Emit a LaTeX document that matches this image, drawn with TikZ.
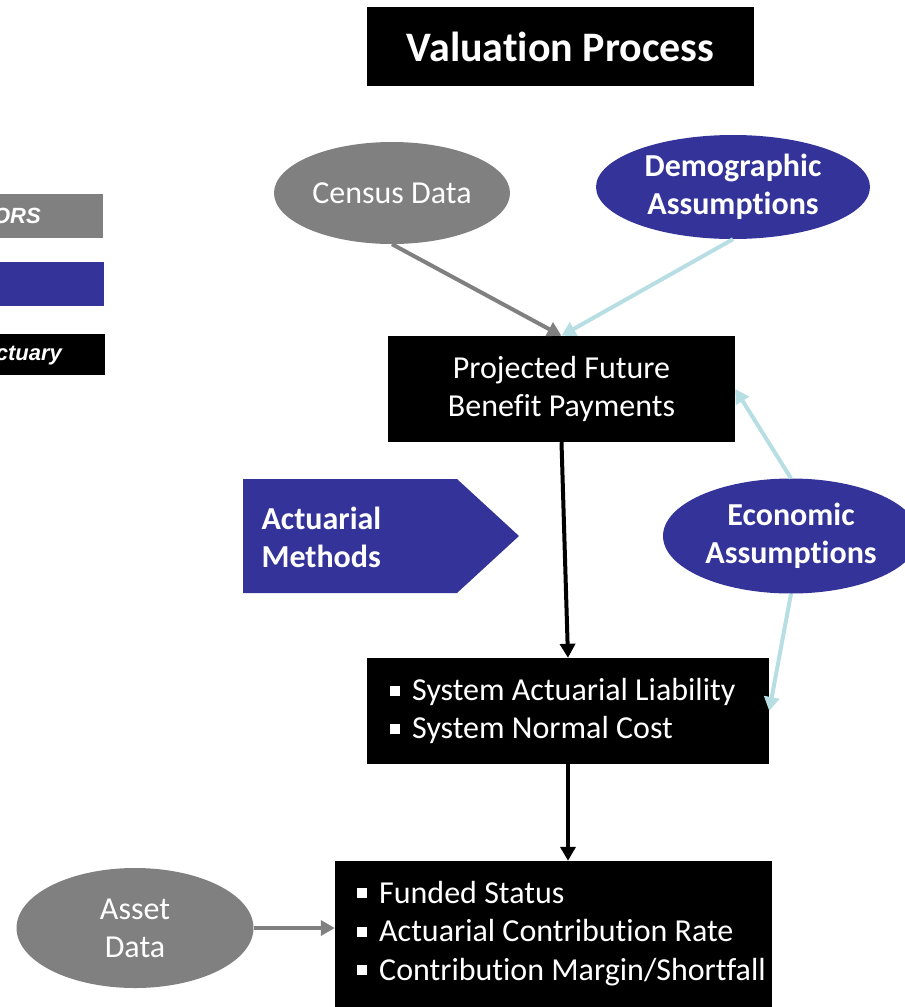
\documentclass[tikz,border=0pt]{standalone}
\usepackage{fontspec}
\setmainfont[Ligatures={NoCommon}]{Carlito}
\newfontfamily\legfont{Liberation Sans}
\usetikzlibrary{shapes.geometric,arrows.meta,calc}
\definecolor{dblue}{RGB}{51,51,153}
\definecolor{mgray}{RGB}{128,128,128}
\definecolor{lblue}{RGB}{183,223,227}
\newcommand{\sqb}{\raisebox{5pt}{\rule{10pt}{10pt}}\hspace{12pt}}
\begin{document}
\begin{tikzpicture}[x=1pt,y=-1pt,
  every node/.style={font=\fontsize{32}{38}\selectfont, text=white},
  blackbox/.style={fill=black, inner sep=0pt},
  oval/.style={ellipse, inner sep=0pt},
  legtext/.style={font=\legfont\fontsize{22}{26}\selectfont\bfseries\itshape, text=white, inner sep=0pt},
  conn/.style={line width=4pt, -{Triangle[length=14pt,width=15pt]}}
]
\useasboundingbox (0,0) rectangle (905,1007);
\clip (0,0) rectangle (905,1007);
% title
\node[blackbox, minimum width=387, minimum height=79, font=\fontsize{42}{48}\selectfont\bfseries] (title) at (560.5,46.5) {Valuation Process};
% legend
\node[fill=mgray, minimum width=103, minimum height=44, inner sep=0pt, anchor=north west] (leg1) at (0,194) {};
\node[legtext, anchor=east] (leg1t) at (41,216) {ORS};
\node[fill=dblue, minimum width=104, minimum height=44, inner sep=0pt, anchor=north west] (leg2) at (0,262) {};
\node[fill=black, minimum width=105, minimum height=41, inner sep=0pt, anchor=north west] (leg3) at (0,334) {};
\node[legtext, anchor=east] (leg3t) at (62,356) {ctuary};
% ovals
\node[oval, fill=mgray, minimum width=236, minimum height=102] (census) at (392,193) {Census Data};
\node[oval, fill=dblue, minimum width=274, minimum height=104, align=center, font=\fontsize{32}{38}\selectfont\bfseries] (demo) at (733,187) {Demographic\\Assumptions};
\node[oval, fill=dblue, minimum width=256, minimum height=115, align=center, font=\fontsize{32}{38}\selectfont\bfseries] (eco) at (791,536) {Economic\\Assumptions};
\node[oval, fill=mgray, minimum width=237, minimum height=120, align=center] (asset) at (135,928) {Asset\\Data};
% boxes
\node[blackbox, minimum width=347, minimum height=106, align=center] (proj) at (561.5,389) {Projected Future\\Benefit Payments};
\node[blackbox, minimum width=402, minimum height=106] (sal) at (568,711) {};
\node[anchor=west, align=left, inner sep=0pt] (saltext) at (390,711) {\sqb System Actuarial Liability\\\sqb System Normal Cost};
\node[blackbox, minimum width=437, minimum height=150] (fund) at (553.5,936) {};
\node[anchor=north west, align=left, inner sep=0pt, font=\fontsize{32}{38.5}\selectfont] (fundtext) at (357,881) {\sqb Funded Status\\\sqb Actuarial Contribution Rate\\\sqb Contribution Margin/Shortfall};
% actuarial methods arrow shape
\fill[dblue] (243,479) -- (457,479) -- (519,536) -- (457,593) -- (243,593) -- cycle;
\node[anchor=west, align=left, font=\fontsize{32}{38}\selectfont\bfseries] (am) at (258,537) {Actuarial\\Methods};
% connectors
\draw[conn, mgray] (census.south) -- (proj.north);
\draw[conn, lblue] (demo.south) -- (proj.north);
\draw[conn, lblue] (eco.north) -- (proj.east);
\draw[conn, lblue] (eco.south) -- (sal.east);
\draw[conn, black] (proj.south) -- (sal.north);
\draw[conn, black] (sal.south) -- (sal.south |- fund.north);
\draw[conn, mgray] (asset.east) -- (asset.east -| fund.west);
\end{tikzpicture}
\end{document}
